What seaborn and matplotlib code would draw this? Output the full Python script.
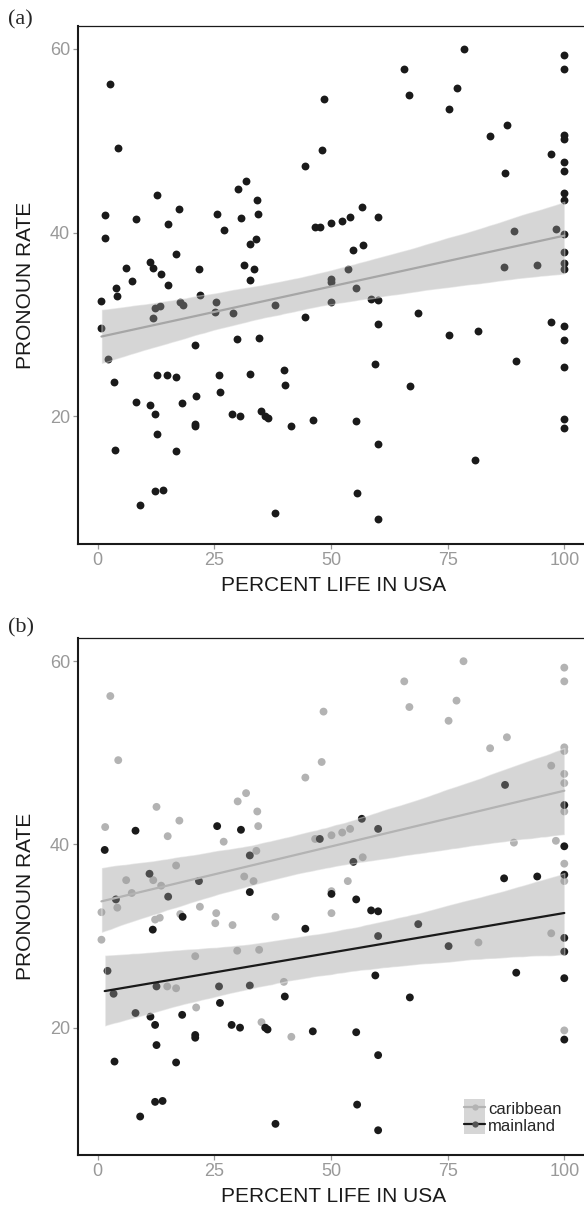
import numpy as np
import pandas as pd
import matplotlib
matplotlib.use("Agg")
import matplotlib.pyplot as plt
from matplotlib.lines import Line2D
from matplotlib.patches import Patch
import seaborn as sns

sns.set_style("white")
plt.rcParams['font.family'] = ['Liberation Sans', 'DejaVu Sans']

# caribbean speakers: percent of life in USA, pronoun rate
carib_x = [2.7, 4.4, 1.6, 12.6, 15.0, 17.5, 27.0, 30.0, 31.8, 34.2,
           34.4, 34.0, 16.8, 6.1, 11.9, 13.6, 31.4, 33.4, 7.3, 4.2,
           21.9, 0.8, 12.3, 13.3, 17.7, 25.4, 25.2, 28.9, 38.1, 0.8,
           20.9, 29.9, 34.6, 14.9, 16.8, 39.9, 21.1, 35.1, 41.5,
           78.4, 100, 100, 65.7, 76.9, 48.4, 66.8, 75.2, 87.7, 84.1,
           100, 100, 48.0, 44.5, 97.2, 100, 100, 100, 54.1, 52.4,
           50.1, 46.6, 89.2, 98.2, 56.8, 100, 53.6, 100, 50.1, 50.1,
           81.6, 97.2, 100]
carib_y = [56.2, 49.2, 41.9, 44.1, 40.9, 42.6, 40.3, 44.7, 45.6, 43.6,
           42.0, 39.3, 37.7, 36.1, 36.1, 35.5, 36.5, 36.0, 34.7, 33.1,
           33.2, 32.6, 31.8, 32.0, 32.4, 32.5, 31.4, 31.2, 32.1, 29.6,
           27.8, 28.4, 28.5, 24.5, 24.3, 25.0, 22.2, 20.6, 19.0,
           60.0, 59.3, 57.8, 57.8, 55.7, 54.5, 55.0, 53.5, 51.7, 50.5,
           50.6, 50.2, 49.0, 47.3, 48.6, 47.7, 46.7, 43.6, 41.7, 41.3,
           41.0, 40.6, 40.2, 40.4, 38.6, 37.9, 36.0, 36.0, 34.9, 32.5,
           29.3, 30.3, 19.7]

# mainland speakers
main_x = [1.5, 8.1, 25.6, 30.7, 32.6, 11.1, 21.7, 32.6, 15.1, 3.9,
          11.8, 18.2, 2.1, 3.4, 12.6, 26.0, 32.6, 40.1, 26.2, 8.1,
          18.1, 11.3, 12.3, 28.7, 30.5, 35.9, 36.4, 20.9, 20.9, 12.6,
          3.6, 16.8, 12.3, 13.9, 9.1, 38.1,
          87.3, 100, 56.6, 60.1, 47.6, 100, 54.8, 87.1, 94.2, 100,
          50.1, 55.4, 58.6, 60.1, 44.5, 68.7, 60.1, 75.2, 100, 100,
          59.5, 89.7, 100, 66.9, 46.1, 55.4, 100, 60.1, 55.6, 60.1]
main_y = [39.4, 41.5, 42.0, 41.6, 38.8, 36.8, 36.0, 34.8, 34.3, 34.0,
          30.7, 32.1, 26.2, 23.7, 24.5, 24.5, 24.6, 23.4, 22.7, 21.6,
          21.4, 21.2, 20.3, 20.3, 20.0, 20.0, 19.8, 19.2, 18.9, 18.1,
          16.3, 16.2, 11.9, 12.0, 10.3, 9.5,
          46.5, 44.3, 42.8, 41.7, 40.6, 39.8, 38.1, 36.3, 36.5, 36.7,
          34.6, 34.0, 32.8, 32.7, 30.8, 31.3, 30.0, 28.9, 29.8, 28.3,
          25.7, 26.0, 25.4, 23.3, 19.6, 19.5, 18.7, 17.0, 11.6, 8.8]

# speaker without a region (only in panel a)
other_x = [80.9]
other_y = [15.2]

groups = ['caribbean', 'mainland']
point_colors = {'caribbean': '#b3b3b3', 'mainland': '#1a1a1a'}
line_colors = {'caribbean': '#b3b3b3', 'mainland': '#1a1a1a'}

df = pd.DataFrame({
    'life': carib_x + main_x + other_x,
    'rate': carib_y + main_y + other_y,
    'group': ['caribbean'] * len(carib_x) + ['mainland'] * len(main_x) + ['other'] * len(other_x),
})
df_b = df[df['group'].isin(groups)]


def fit(ax, data, color):
    sns.regplot(data=data, x='life', y='rate', scatter=False, ax=ax,
                ci=95, n_boot=2000, seed=3, color=color,
                line_kws={'lw': 1.6, 'zorder': 4})
    band = ax.collections[-1]
    band.set_facecolor('#999999')
    band.set_alpha(0.4)
    band.set_zorder(3)


def style(ax):
    ax.set_xlim(-4.17, 105.1)
    ax.set_ylim(6.1, 62.5)
    ax.set_xticks([0, 25, 50, 75, 100])
    ax.set_yticks([20, 40, 60])
    ax.tick_params(axis='both', which='both', direction='out', length=3.5,
                   width=0.9, color='#999999', labelcolor='#999999',
                   labelsize=13, pad=2.5, left=True, bottom=True)
    for side in ['left', 'bottom']:
        ax.spines[side].set_linewidth(1.5)
        ax.spines[side].set_color('#1a1a1a')
    ax.spines['top'].set_linewidth(0.9)
    ax.spines['top'].set_color('#1a1a1a')
    ax.spines['right'].set_visible(False)
    ax.set_xlabel('PERCENT LIFE IN USA', fontsize=15, color='#1a1a1a', labelpad=5)
    ax.set_ylabel('PRONOUN RATE', fontsize=15, color='#1a1a1a')
    ax.yaxis.set_label_coords(-0.085, 0.5)
    ax.grid(False)


fig = plt.figure(figsize=(5.84, 12.14), dpi=100)
ax_a = fig.add_axes([0.134, 0.5519, 0.873, 0.4267])
ax_b = fig.add_axes([0.134, 0.0486, 0.873, 0.4256])

# panel (a): everyone, one fit
sns.scatterplot(data=df, x='life', y='rate', color='#1a1a1a', s=32,
                linewidth=0, ax=ax_a, zorder=2)
fit(ax_a, df, '#a6a6a6')
style(ax_a)

# panel (b): by region
sns.scatterplot(data=df_b, x='life', y='rate', hue='group', palette=point_colors,
                s=32, linewidth=0, ax=ax_b, zorder=2, legend=False)
for g in groups:
    fit(ax_b, df_b[df_b['group'] == g], line_colors[g])
style(ax_b)

handles = []
for g in groups:
    handles.append((Patch(facecolor='#d6d6d6', edgecolor='none'),
                    Line2D([], [], color=line_colors[g], lw=1.6, marker='o',
                           markersize=4.5, markeredgewidth=0,
                           markerfacecolor='#b3b3b3' if g == 'caribbean' else '#555555')))
ax_b.legend(handles, groups, loc='lower left', bbox_to_anchor=(0.757, 0.041),
            frameon=False, fontsize=12, handlelength=1.25, handleheight=1.2,
            handletextpad=0.2, labelspacing=0.0, borderpad=0, borderaxespad=0)

fig.text(8 / 584, 1 - 10 / 1214, '(a)', family='Liberation Serif', fontsize=16,
         va='top', ha='left')
fig.text(8 / 584, 1 - 618 / 1214, '(b)', family='Liberation Serif', fontsize=16,
         va='top', ha='left')

fig.savefig('out.png', dpi=100, facecolor='white')
